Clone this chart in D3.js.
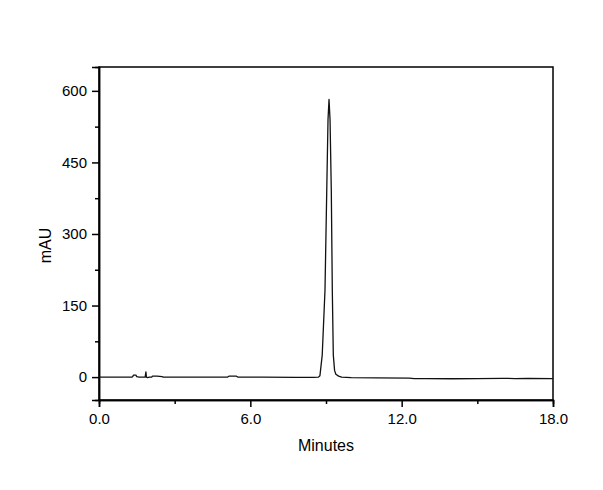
<!DOCTYPE html>
<html>
<head>
<meta charset="utf-8">
<script src="https://cdn.jsdelivr.net/npm/d3@7"></script>
<style>
html, body { margin: 0; padding: 0; background: #fff; }
svg { display: block; }
text { font-family: "Liberation Sans", Arial, sans-serif; fill: #000; }
</style>
</head>
<body>
<script>
const timeMin = [0, 0.8, 1.30, 1.34, 1.36, 1.47, 1.49, 1.60, 1.75, 1.83, 1.86, 1.88, 1.92, 2.00, 2.09, 2.12, 2.30, 2.50, 2.55, 3.2, 4.5, 5.10, 5.15, 5.45, 5.50, 6.5, 7.8, 8.5, 8.70, 8.76, 8.85, 8.96, 9.03, 9.08, 9.12, 9.16, 9.21, 9.25, 9.29, 9.34, 9.39, 9.50, 9.62, 10.0, 11.0, 12.3, 12.5, 13.0, 14.0, 15.0, 16.0, 16.5, 17.0, 18.0];
const mAU     = [0, 0, 0, 1, 4, 4, 1, 0, 0, 0, 11, 0, -1, 0, 0, 2, 2, 1, 0, 0, 0, 0, 2, 2, 0, 0, -0.5, -0.5, 0, 3, 46, 182, 392, 540, 582, 540, 392, 182, 46, 14, 6, 2, 0, -1, -1.5, -2, -3, -3, -3.5, -3, -2.5, -3, -2.5, -3];
const xTicks = [0, 6, 12, 18];
const xMinorTicks = [3, 9, 15];
const yTicks = [0, 150, 300, 450, 600];
const yMinorTicks = [75, 225, 375, 525];
const xTitle = "Minutes";
const yTitle = "mAU";

const W = 603, H = 490;
const m = { left: 99, right: 50, top: 67, bottom: 90 };
const svg = d3.select("body").append("svg").attr("width", W).attr("height", H);

const x = d3.scaleLinear().domain([0, 18]).range([m.left, W - m.right]);
const y = d3.scaleLinear().domain([-48, 650]).range([H - m.bottom, m.top]);

// Frame
svg.append("rect")
  .attr("x", m.left).attr("y", m.top)
  .attr("width", (W - m.right) - m.left).attr("height", (H - m.bottom) - m.top)
  .attr("fill", "none").attr("stroke", "#000").attr("stroke-width", 1.5);

// Axes
const xAxis = svg.append("g").attr("transform", `translate(0,${H - m.bottom})`)
  .call(d3.axisBottom(x).tickValues(xTicks).tickFormat(d3.format(".1f")).tickSize(7).tickPadding(6));
const xMinor = svg.append("g").attr("transform", `translate(0,${H - m.bottom})`)
  .call(d3.axisBottom(x).tickValues(xMinorTicks).tickFormat("").tickSize(4));
const yAxis = svg.append("g").attr("transform", `translate(${m.left},0)`)
  .call(d3.axisLeft(y).tickValues(yTicks).tickSize(7).tickPadding(5));
const yMinor = svg.append("g").attr("transform", `translate(${m.left},0)`)
  .call(d3.axisLeft(y).tickValues(yMinorTicks).tickFormat("").tickSize(4));

[xAxis, xMinor, yAxis, yMinor].forEach(g => {
  g.select(".domain").attr("stroke", "#000").attr("stroke-width", 1.5);
  g.selectAll(".tick line").attr("stroke", "#000").attr("stroke-width", 1.5);
  g.selectAll(".tick text").attr("font-size", 15).attr("font-family", "Liberation Sans, Arial, sans-serif").attr("fill", "#000");
});

// Trace
const line = d3.line().x((d, i) => x(timeMin[i])).y(d => y(d));
svg.append("path")
  .datum(mAU)
  .attr("d", line)
  .attr("fill", "none")
  .attr("stroke", "#111")
  .attr("stroke-width", 1.3)
  .attr("stroke-linejoin", "round");

// Titles
svg.append("text")
  .attr("x", (m.left + W - m.right) / 2).attr("y", 451)
  .attr("text-anchor", "middle").attr("font-size", 16)
  .text(xTitle);
svg.append("text")
  .attr("transform", `translate(51,${(m.top + H - m.bottom) / 2 + 12}) rotate(-90)`)
  .attr("text-anchor", "middle").attr("font-size", 16)
  .text(yTitle);
</script>
</body>
</html>
